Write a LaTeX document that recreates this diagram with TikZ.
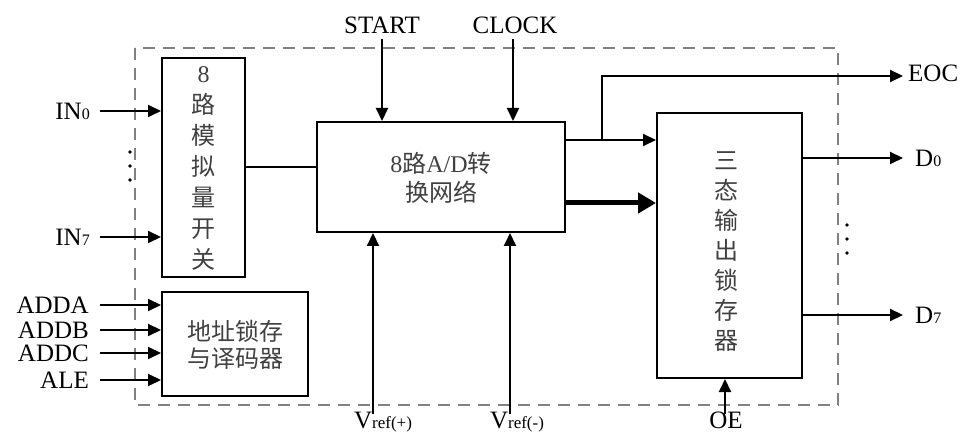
\documentclass[tikz,border=0pt]{standalone}
\usepackage{fontspec}
\setmainfont{Liberation Serif}
\newfontfamily\cjk{Noto Sans CJK SC}
\usetikzlibrary{arrows.meta}
\begin{document}
\begin{tikzpicture}[x=1pt,y=-1pt,
  blk/.style={draw=black,line width=2pt,inner sep=0pt},
  arr/.style={line width=2pt,-{Triangle[length=13pt,width=12pt]}},
  thickarr/.style={line width=5pt,-{Triangle[length=18pt,width=20pt]}},
  ln/.style={line width=2pt},
  lab/.style={font=\fontsize{25}{28}\selectfont,inner sep=0pt},
  cn/.style={font=\cjk\fontsize{24}{30}\selectfont,text=black!75,inner sep=0pt,align=center},
  dotc/.style={fill=black,circle,inner sep=0pt,minimum size=3.6pt}]
\useasboundingbox (0,0) rectangle (963,438);
% frame
\draw[line width=2.8pt,black!50,dash pattern=on 12pt off 8pt] (135,48) rectangle (838,405);
% blocks
\node[blk,minimum width=83pt,minimum height=219pt] (mux) at (203.5,167.5) {};
\node[blk,minimum width=146pt,minimum height=104pt] (addr) at (235,344) {};
\node[blk,minimum width=248pt,minimum height=110pt] (adc) at (441,177) {};
\node[blk,minimum width=145pt,minimum height=265pt] (latch) at (729.5,245.5) {};
% block texts
\node[cn,font=\cjk\fontsize{24}{31}\selectfont] (muxt) at (203.5,168) {{\rmfamily 8}\\路\\模\\拟\\量\\开\\关};
\node[cn,font=\cjk\fontsize{24}{27}\selectfont] (addrt) at (235,345) {地址锁存\\与译码器};
\node[cn,font=\cjk\fontsize{24}{29}\selectfont] (adct) at (441,178) {{\rmfamily 8}路{\rmfamily A/D}转\\换网络};
\node[cn,font=\cjk\fontsize{24}{30}\selectfont] (latcht) at (726,252) {三\\态\\输\\出\\锁\\存\\器};
% left inputs
\coordinate (in0) at (100,111);
\coordinate (in7) at (100,237);
\node[lab,anchor=east] (lin0) at (90,111) {IN{\fontsize{16}{16}\selectfont 0}};
\node[lab,anchor=east] (lin7) at (90,237) {IN{\fontsize{16}{16}\selectfont 7}};
\draw[arr] (in0) -- (in0 -| mux.west);
\draw[arr] (in7) -- (in7 -| mux.west);
\node[dotc] (ld1) at (130,152) {};
\node[dotc] (ld2) at (130,166) {};
\node[dotc] (ld3) at (130,180) {};
\coordinate (aa) at (100,305);
\coordinate (ab) at (100,330);
\coordinate (ac) at (100,353);
\coordinate (al) at (100,380);
\node[lab,anchor=east] (laa) at (89,305) {ADDA};
\node[lab,anchor=east] (lab) at (89,330) {ADDB};
\node[lab,anchor=east] (lac) at (89,353) {ADDC};
\node[lab,anchor=east] (lal) at (89,380) {ALE};
\draw[arr] (aa) -- (aa -| addr.west);
\draw[arr] (ab) -- (ab -| addr.west);
\draw[arr] (ac) -- (ac -| addr.west);
\draw[arr] (al) -- (al -| addr.west);
% mux to adc
\draw[ln] (mux.east |- 0,167) -- (adc.west |- 0,167);
% top inputs
\node[lab] (lstart) at (382,25) {START};
\node[lab] (lclock) at (515,25) {CLOCK};
\coordinate (st) at (382,39);
\coordinate (ck) at (513,39);
\draw[arr] (st) -- (st |- adc.north);
\draw[arr] (ck) -- (ck |- adc.north);
% bottom inputs
\node[lab,anchor=north] (lvp) at (383,412) {V{\fontsize{17}{17}\selectfont ref(+)}};
\node[lab,anchor=north] (lvm) at (517,412) {V{\fontsize{17}{17}\selectfont ref(-)}};
\node[lab,anchor=north] (loe) at (726,412) {OE};
\coordinate (vp) at (373,414);
\coordinate (vm) at (510,414);
\coordinate (oe) at (725,414);
\draw[arr] (vp) -- (vp |- adc.south);
\draw[arr] (vm) -- (vm |- adc.south);
\draw[arr] (oe) -- (oe |- latch.south);
% adc to latch
\draw[arr] (adc.east |- 0,140) -- (latch.west |- 0,140);
\draw[thickarr] (adc.east |- 0,203) -- (latch.west |- 0,203);
\coordinate (eocb) at (602,140);
\coordinate (eoce) at (903,76);
\draw[arr] (eocb) -- (eocb |- eoce) -- (eoce);
\node[lab,anchor=west] (leoc) at (908,73) {EOC};
% outputs
\coordinate (d0) at (903,158);
\coordinate (d7) at (903,315);
\draw[arr] (latch.east |- d0) -- (d0);
\draw[arr] (latch.east |- d7) -- (d7);
\node[lab,anchor=west] (ld0) at (915,158) {D{\fontsize{16}{16}\selectfont 0}};
\node[lab,anchor=west] (ld7) at (915,315) {D{\fontsize{16}{16}\selectfont 7}};
\node[dotc] (rd1) at (847,225) {};
\node[dotc] (rd2) at (847,239) {};
\node[dotc] (rd3) at (847,253) {};
\end{tikzpicture}
\end{document}
